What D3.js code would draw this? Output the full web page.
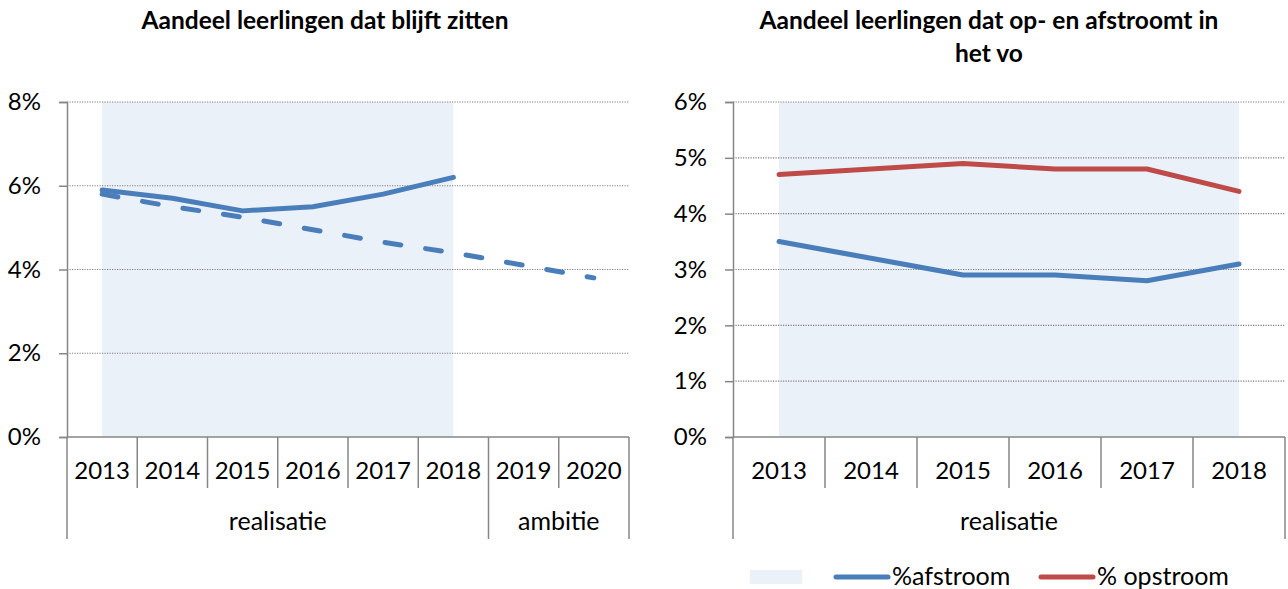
<!doctype html>
<html lang="nl">
<head>
<meta charset="UTF-8" />
<title>Zittenblijven en op- en afstroom</title>
<script src="https://d3js.org/d3.v7.min.js"></script>
<style>
  body { margin: 0; background: #fff; }
  text { font-family: Lato, "Open Sans", sans-serif; fill: #000; }
</style>
</head>
<body>
<div id="chart"></div>
<script>
// data (percent)
var yearsLeft = ['2013', '2014', '2015', '2016', '2017', '2018', '2019', '2020'];
var groupOfYearLeft = ['realisatie', 'realisatie', 'realisatie', 'realisatie', 'realisatie', 'realisatie', 'ambitie', 'ambitie'];
var blijftZitten = [5.9, 5.7, 5.4, 5.5, 5.8, 6.2];
var blijftZittenAmbitie = [5.8, 5.5, 5.25, 4.95, 4.65, 4.4, 4.1, 3.8];
var yTicksLeft = [0, 2, 4, 6, 8];

var yearsRight = ['2013', '2014', '2015', '2016', '2017', '2018'];
var groupOfYearRight = ['realisatie', 'realisatie', 'realisatie', 'realisatie', 'realisatie', 'realisatie'];
var afstroom = [3.5, 3.2, 2.9, 2.9, 2.8, 3.1];
var opstroom = [4.7, 4.8, 4.9, 4.8, 4.8, 4.4];
var yTicksRight = [0, 1, 2, 3, 4, 5, 6];

var BLUE = '#4a7ebb';
var RED = '#be4b48';
var SHADE = '#ebf1f9';
var AXIS = '#868686';

var svg = d3.select('#chart')
    .append('svg')
    .attr('width', 1288)
    .attr('height', 589);

function drawChart(opt) {
    var g = svg.append('g');
    var x = d3.scaleBand().domain(opt.years).range([opt.left, opt.right]);
    var y = d3.scaleLinear().domain([0, d3.max(opt.yTicks)]).range([437, 102]);
    var cx = function (yr) { return x(yr) + x.bandwidth() / 2; };

    // shaded realisatie area
    var shadeYears = opt.years.filter(function (d, i) { return opt.groups[i] === 'realisatie'; });
    g.append('path')
        .datum(shadeYears)
        .attr('fill', SHADE)
        .attr('d', d3.area()
            .x(function (d) { return cx(d); })
            .y0(y(0))
            .y1(y(d3.max(opt.yTicks))));

    // dotted gridlines
    g.selectAll('.grid')
        .data(opt.yTicks.filter(function (d) { return d > 0; }))
        .enter()
        .append('line')
        .attr('x1', opt.left).attr('x2', opt.right)
        .attr('y1', function (d) { return y(d); })
        .attr('y2', function (d) { return y(d); })
        .attr('stroke', '#7f7f7f')
        .attr('stroke-width', 1.2)
        .attr('stroke-dasharray', '1.2,1.3');

    // y axis
    var yAxis = g.append('g')
        .attr('transform', 'translate(' + opt.left + ',0)')
        .call(d3.axisLeft(y)
            .tickValues(opt.yTicks)
            .tickSize(8)
            .tickPadding(18)
            .tickFormat(function (d) { return d + '%'; }));
    yAxis.select('.domain').attr('stroke', AXIS).attr('stroke-width', 1.5);
    yAxis.selectAll('.tick line').attr('stroke', AXIS).attr('stroke-width', 1.5);
    yAxis.selectAll('.tick text')
        .attr('font-size', '24px')
        .attr('font-family', 'Lato, sans-serif')
        .attr('fill', '#000');

    // category axis line
    g.append('line')
        .attr('x1', opt.left).attr('x2', opt.right)
        .attr('y1', y(0)).attr('y2', y(0))
        .attr('stroke', AXIS).attr('stroke-width', 1.5);

    // separators between years; group borders run deeper
    var bounds = opt.years.map(function (d) { return x(d); }).concat([opt.right]);
    g.selectAll('.sep')
        .data(bounds)
        .enter()
        .append('line')
        .attr('x1', function (d) { return d; })
        .attr('x2', function (d) { return d; })
        .attr('y1', y(0))
        .attr('y2', function (d, i) {
            var isGroupEdge = i === 0 || i === bounds.length - 1 || opt.groups[i] !== opt.groups[i - 1];
            return isGroupEdge ? 539 : 488;
        })
        .attr('stroke', AXIS).attr('stroke-width', 1.5);

    g.selectAll('.year')
        .data(opt.years)
        .enter()
        .append('text')
        .attr('x', function (d) { return cx(d); })
        .attr('y', 479)
        .attr('text-anchor', 'middle')
        .attr('font-size', '24px')
        .text(function (d) { return d; });

    // group labels
    var groupNames = Array.from(new Set(opt.groups));
    g.selectAll('.grp')
        .data(groupNames)
        .enter()
        .append('text')
        .attr('x', function (name) {
            var ys = opt.years.filter(function (d, i) { return opt.groups[i] === name; });
            return (x(ys[0]) + x(ys[ys.length - 1]) + x.bandwidth()) / 2;
        })
        .attr('y', 530)
        .attr('text-anchor', 'middle')
        .attr('font-size', '25px')
        .text(function (d) { return d; });

    // series
    opt.series.forEach(function (s) {
        g.append('path')
            .datum(s.values)
            .attr('fill', 'none')
            .attr('stroke', s.color)
            .attr('stroke-width', 5)
            .attr('stroke-linecap', 'round')
            .attr('stroke-linejoin', 'round')
            .attr('stroke-dasharray', s.dash || null)
            .attr('d', d3.line()
                .x(function (d, i) { return cx(opt.years[i]); })
                .y(function (d) { return y(d); }));
    });

    // title
    var title = g.append('text')
        .attr('x', opt.titleX)
        .attr('y', 29)
        .attr('text-anchor', 'middle')
        .attr('font-size', '24.5px')
        .attr('font-weight', 'bold');
    opt.title.forEach(function (line, i) {
        title.append('tspan')
            .attr('x', opt.titleX)
            .attr('dy', i === 0 ? 0 : 33)
            .text(line);
    });

    return { x: x, y: y };
}

drawChart({
    years: yearsLeft,
    groups: groupOfYearLeft,
    yTicks: yTicksLeft,
    left: 67, right: 629,
    titleX: 325,
    title: ['Aandeel leerlingen dat blijft zitten'],
    series: [
        { values: blijftZittenAmbitie, color: BLUE, dash: '16,25' },
        { values: blijftZitten, color: BLUE }
    ]
});

drawChart({
    years: yearsRight,
    groups: groupOfYearRight,
    yTicks: yTicksRight,
    left: 733, right: 1285,
    titleX: 989,
    title: ['Aandeel leerlingen dat op- en afstroomt in', 'het vo'],
    series: [
        { values: opstroom, color: RED },
        { values: afstroom, color: BLUE }
    ]
});

// legend under the right chart
var legend = svg.append('g').attr('transform', 'translate(750,577)');
legend.append('rect')
    .attr('x', 0).attr('y', -7)
    .attr('width', 52).attr('height', 14)
    .attr('fill', SHADE);
var legendItems = [
    { label: '%afstroom', color: BLUE, x: 86 },
    { label: '% opstroom', color: RED, x: 291 }
];
legendItems.forEach(function (it) {
    legend.append('line')
        .attr('x1', it.x).attr('x2', it.x + 52)
        .attr('y1', 0).attr('y2', 0)
        .attr('stroke', it.color)
        .attr('stroke-width', 5)
        .attr('stroke-linecap', 'round');
    legend.append('text')
        .attr('x', it.x + 56)
        .attr('y', 8)
        .attr('font-size', '25px')
        .text(it.label);
});
</script>
</body>
</html>
